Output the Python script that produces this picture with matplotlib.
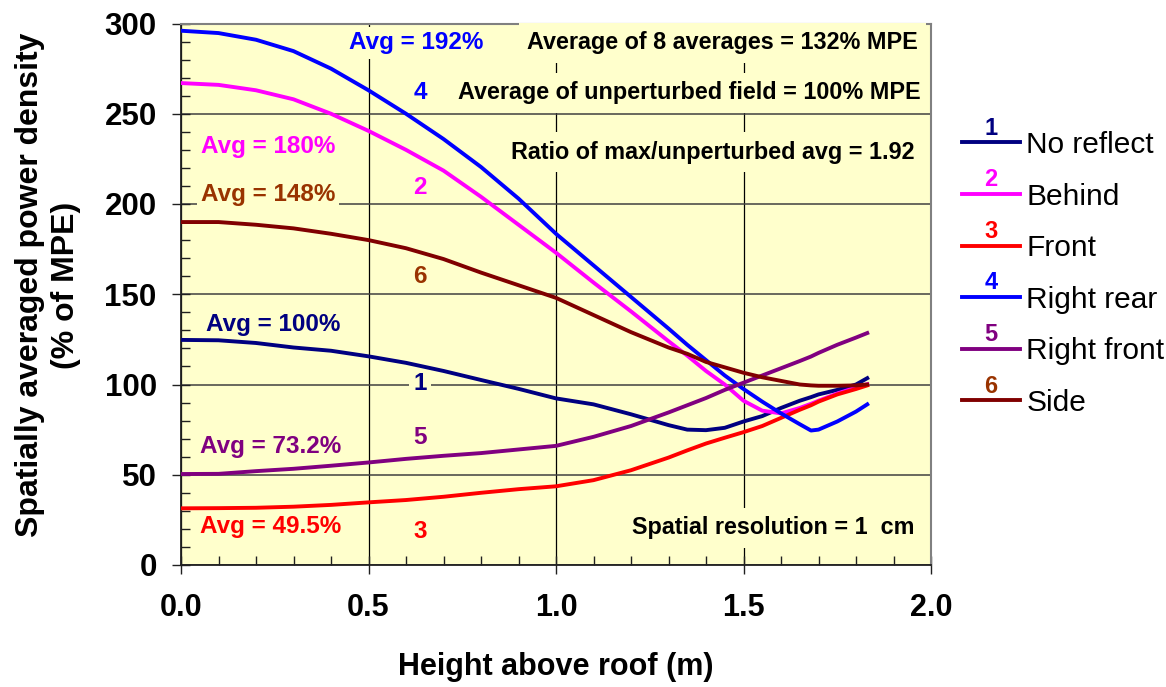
import matplotlib
matplotlib.use("Agg")
import matplotlib.pyplot as plt
from matplotlib.lines import Line2D
from matplotlib.text import Text
from matplotlib.legend_handler import HandlerBase
from matplotlib.ticker import MultipleLocator, FormatStrFormatter

plt.rcParams['font.family'] = ['Liberation Sans', 'DejaVu Sans']

# ---------------- data ----------------
height_m = [0.0, 0.1, 0.2, 0.3, 0.4, 0.5, 0.6, 0.7, 0.8, 0.9, 1.0, 1.1, 1.2,
            1.3, 1.35, 1.4, 1.45, 1.5, 1.55, 1.6, 1.65, 1.68, 1.7, 1.75, 1.8, 1.83]

no_reflect = [124.7, 124.5, 123.0, 120.5, 118.7, 115.6, 112.0, 107.5, 102.5, 97.6, 92.3, 89.0, 83.5,
              77.5, 75.0, 74.7, 76.0, 79.5, 82.5, 87.0, 91.0, 93.0, 94.5, 97.0, 100.0, 103.5]
behind = [267.0, 266.0, 263.0, 258.0, 250.0, 240.5, 230.0, 218.5, 204.0, 188.5, 173.0, 156.5, 140.5,
          124.0, 116.0, 107.5, 100.0, 91.0, 85.5, 84.0, 87.0, 89.3, 91.0, 95.0, 98.3, 100.2]
front = [31.4, 31.5, 31.7, 32.3, 33.3, 34.7, 36.0, 37.8, 40.0, 42.0, 43.6, 47.0, 52.5,
         59.5, 63.5, 67.3, 70.5, 73.6, 77.0, 81.5, 86.0, 88.5, 90.5, 94.5, 97.5, 99.5]
right_rear = [296.0, 294.7, 291.0, 284.7, 275.0, 263.0, 250.0, 236.0, 220.5, 203.0, 183.5, 166.0, 148.5,
              131.0, 122.0, 113.5, 105.0, 97.5, 90.5, 84.0, 78.0, 74.5, 75.0, 79.5, 85.0, 89.0]
right_front = [50.4, 50.5, 52.0, 53.3, 55.0, 56.8, 58.8, 60.5, 62.0, 64.0, 66.0, 71.0, 77.0,
               84.5, 88.5, 92.5, 97.0, 101.0, 105.0, 109.0, 113.0, 115.5, 117.5, 122.0, 126.0, 128.5]
side = [190.0, 190.0, 188.5, 186.5, 183.5, 180.0, 175.5, 169.5, 162.0, 155.0, 148.0, 138.5, 129.0,
        120.5, 117.0, 112.5, 109.5, 106.5, 104.0, 102.0, 100.0, 99.5, 99.3, 99.3, 99.5, 100.0]

series_names = ["No reflect", "Behind", "Front", "Right rear", "Right front", "Side"]
series_nums = ["1", "2", "3", "4", "5", "6"]
series_values = [no_reflect, behind, front, right_rear, right_front, side]
line_colors = ["#000080", "#FF00FF", "#FF0000", "#0000FF", "#800080", "#800000"]
label_colors = ["#000080", "#FF00FF", "#FF0000", "#0000FF", "#800080", "#993300"]

avg_texts = ["Avg = 100%", "Avg = 180%", "Avg = 49.5%", "Avg = 192%", "Avg = 73.2%", "Avg = 148%"]
avg_pos = [(0.247, 133.5), (0.232, 231.6), (0.239, 21.6), (0.628, 289.2), (0.239, 65.9), (0.232, 205.0)]
num_pos = [(0.637, 100.8), (0.637, 209.4), (0.637, 18.3), (0.637, 261.5), (0.637, 70.9), (0.637, 159.6)]

info_texts = ["Average of 8 averages = 132% MPE",
              "Average of unperturbed field = 100% MPE",
              "Ratio of max/unperturbed avg = 1.92",
              "Spatial resolution = 1  cm"]
info_pos = [(1.965, 289.2), (1.971, 261.5), (1.957, 228.8), (1.957, 20.5)]

BG = "#FFFFCC"

# ---------------- figure ----------------
W, H = 1166, 687
fig = plt.figure(figsize=(W / 100, H / 100), dpi=100)
ax = fig.add_axes([181 / W, 1 - 565 / H, (931 - 181) / W, (565 - 23.5) / H])
ax.set_facecolor(BG)
ax.set_xlim(0, 2.0)
ax.set_ylim(0, 300)

ax.xaxis.set_major_locator(MultipleLocator(0.5))
ax.xaxis.set_minor_locator(MultipleLocator(0.1))
ax.yaxis.set_major_locator(MultipleLocator(50))
ax.yaxis.set_minor_locator(MultipleLocator(10))
ax.xaxis.set_major_formatter(FormatStrFormatter('%.1f'))

ax.tick_params(which='major', direction='inout', length=13, width=1.0, color='#202020')
ax.tick_params(which='minor', direction='in', length=6.5, width=1.0, color='#202020')
ax.tick_params(axis='y', which='major', pad=11, labelsize=22.5)
ax.tick_params(axis='x', which='major', pad=14, labelsize=22)
for lab in ax.get_xticklabels() + ax.get_yticklabels():
    lab.set_fontweight('bold')

ax.set_axisbelow(True)
ax.grid(axis='y', which='major', color='#404040', lw=1.1)
ax.grid(axis='x', which='major', color='#000000', lw=0.9)

for s in ['top', 'right']:
    ax.spines[s].set_color('#808080')
    ax.spines[s].set_linewidth(1.5)
for s in ['left', 'bottom']:
    ax.spines[s].set_color('#202020')
    ax.spines[s].set_linewidth(1.3)

lines = []
for name, vals, col in zip(series_names, series_values, line_colors):
    ln, = ax.plot(height_m, vals, color=col, lw=2.8, label=name, zorder=4,
                  solid_joinstyle='round')
    lines.append(ln)

box = dict(facecolor=BG, edgecolor='none', pad=3)
for t, (x, y), c in zip(avg_texts, avg_pos, label_colors):
    ax.text(x, y, t, color=c, fontsize=17.5, fontweight='bold', ha='center', va='center',
            bbox=box, zorder=3)
for t, (x, y), c in zip(series_nums, num_pos, label_colors):
    ax.text(x, y, t, color=c, fontsize=17.5, fontweight='bold', ha='center', va='center',
            bbox=box, zorder=3)
for t, (x, y) in zip(info_texts, info_pos):
    ax.text(x, y, t, color='black', fontsize=16.8, fontweight='bold', ha='right', va='center',
            bbox=dict(facecolor=BG, edgecolor='none', pad=6), zorder=3)

ax.set_xlabel("Height above roof (m)", fontsize=22, fontweight='bold')
ax.xaxis.set_label_coords(0.5, -(667 - 565) / 541.5)
ax.xaxis.label.set_verticalalignment('center')
ax.set_ylabel("Spatially averaged power density\n(% of MPE)", fontsize=23,
              fontweight='bold', linespacing=1.25, multialignment='center')
ax.yaxis.set_label_coords((48 - 181) / 750, (565 - 285) / 541.5)
ax.yaxis.label.set_verticalalignment('center')
ax.yaxis.label.set_horizontalalignment('center')


class NumberedHandler(HandlerBase):
    def __init__(self, num, color):
        super().__init__()
        self.num = num
        self.color = color

    def create_artists(self, legend, orig_handle, xdescent, ydescent, width, height,
                       fontsize, trans):
        y = height / 2 - ydescent
        ln = Line2D([-xdescent, -xdescent + width], [y, y], color=orig_handle.get_color(),
                    lw=orig_handle.get_linewidth(), transform=trans)
        tx = Text(-xdescent + width / 2, y + 2.0, self.num, color=self.color, fontsize=17,
                  fontweight='bold', ha='center', va='bottom', transform=trans)
        return [ln, tx]


hmap = {ln: NumberedHandler(n, c) for ln, n, c in zip(lines, series_nums, label_colors)}
leg = fig.legend(handles=lines, labels=series_names, handler_map=hmap,
                 loc='upper left', bbox_to_anchor=(950 / W, 1 - 119 / H),
                 frameon=False, fontsize=21.5, handlelength=1.95, handletextpad=0.2,
                 labelspacing=0.79, borderpad=0.4, borderaxespad=0.0)

fig.savefig("out.png", dpi=100, facecolor='white')
